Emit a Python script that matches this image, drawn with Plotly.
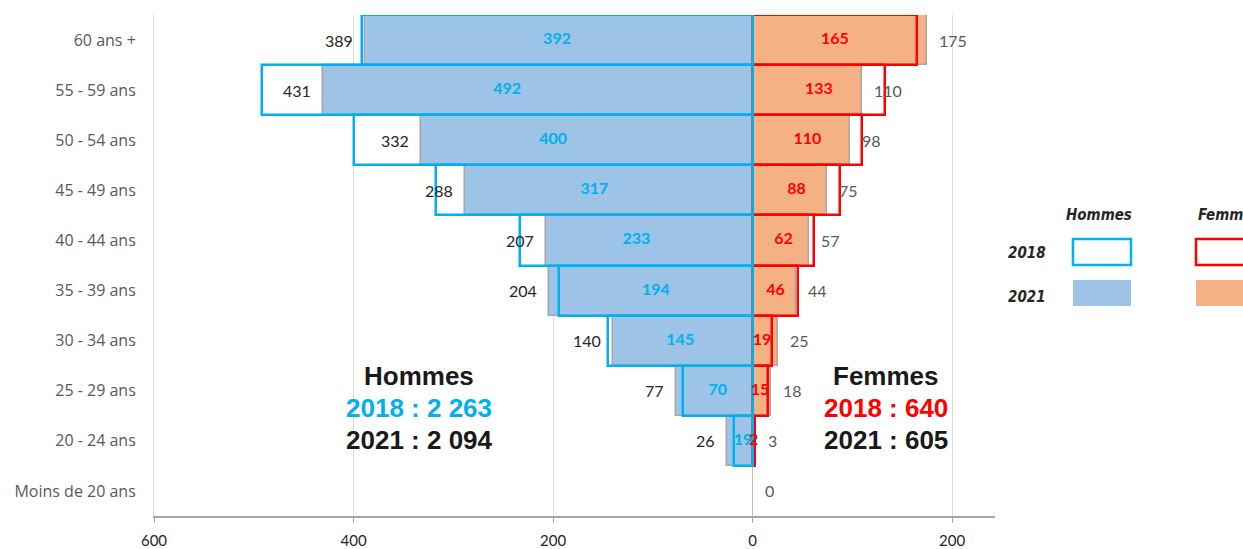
import plotly.graph_objects as go

categories = ["60 ans +", "55 - 59 ans", "50 - 54 ans", "45 - 49 ans", "40 - 44 ans",
              "35 - 39 ans", "30 - 34 ans", "25 - 29 ans", "20 - 24 ans", "Moins de 20 ans"]
hommes_2018 = [392, 492, 400, 317, 233, 194, 145, 70, 19, 0]
hommes_2021 = [389, 431, 332, 288, 207, 204, 140, 77, 26, 0]
femmes_2018 = [165, 133, 110, 88, 62, 46, 19, 15, 2, 0]
femmes_2021 = [175, 110, 98, 75, 57, 44, 25, 18, 3, 0]
tick_vals = [-600, -400, -200, 0, 200]
tick_text = ["600", "400", "200", "0", "200"]
total_text_h = ["Hommes", "2018 : 2 263", "2021 : 2 094"]
total_text_f = ["Femmes", "2018 : 640", "2021 : 605"]

BLUE = "#00B0F0"
BLUE_FILL = "#9DC3E6"
RED = "#FF0000"
ORANGE_FILL = "#F4B183"
GRAY_LINE = "#A6A6A6"
LABEL_FONT = "Lato, 'Open Sans', sans-serif"
CAT_FONT = "'Open Sans', Lato, sans-serif"


def nz(vals, sign=1):
    # zero-valued bars are not drawn (avoids an outline on the zero line)
    return [sign * v if v else None for v in vals]


fig = go.Figure()

# 2021 filled bars
fig.add_trace(go.Bar(y=categories, x=nz(hommes_2021, -1), orientation="h", width=1,
                     marker=dict(color=BLUE_FILL, line=dict(color=GRAY_LINE, width=1.5)),
                     hoverinfo="skip", showlegend=False))
fig.add_trace(go.Bar(y=categories, x=nz(femmes_2021), orientation="h", width=1,
                     marker=dict(color=ORANGE_FILL, line=dict(color=GRAY_LINE, width=1.5)),
                     hoverinfo="skip", showlegend=False))
# 2018 outline bars
fig.add_trace(go.Bar(y=categories, x=nz(femmes_2018), orientation="h", width=1,
                     marker=dict(color="rgba(0,0,0,0)", line=dict(color=RED, width=2.5)),
                     hoverinfo="skip", showlegend=False))
fig.add_trace(go.Bar(y=categories, x=nz(hommes_2018, -1), orientation="h", width=1,
                     marker=dict(color="rgba(0,0,0,0)", line=dict(color=BLUE, width=2.5)),
                     hoverinfo="skip", showlegend=False))

# inside labels (2018)
fig.add_trace(go.Scatter(
    y=[c for c, v in zip(categories, hommes_2018) if v > 0],
    x=[-v / 2 for v in hommes_2018 if v > 0],
    text=[str(v) for v in hommes_2018 if v > 0], mode="text",
    textfont=dict(family=LABEL_FONT, size=16, color=BLUE, weight="bold"),
    hoverinfo="skip", showlegend=False))
fig.add_trace(go.Scatter(
    y=[c for c, v in zip(categories, femmes_2018) if v > 0],
    x=[v / 2 for v in femmes_2018 if v > 0],
    text=[str(v) for v in femmes_2018 if v > 0], mode="text",
    textfont=dict(family=LABEL_FONT, size=16, color=RED, weight="bold"),
    hoverinfo="skip", showlegend=False))

annotations = []
# outside labels (2021)
for c, v in zip(categories, hommes_2021):
    if v > 0:
        annotations.append(dict(x=-v, y=c, xref="x", yref="y", text=str(v), showarrow=False,
                                xanchor="right", xshift=-10,
                                font=dict(family=LABEL_FONT, size=16, color="#262626")))
for c, v in zip(categories, femmes_2021):
    annotations.append(dict(x=v, y=c, xref="x", yref="y", text=str(v), showarrow=False,
                            xanchor="left", xshift=10,
                            font=dict(family=LABEL_FONT, size=16, color="#595959")))

# totals
big_font = "'Liberation Sans', Arial, sans-serif"
ys = [0.2794, 0.2156, 0.1517]
colors_h = ["#1a1a1a", BLUE, "#1a1a1a"]
colors_f = ["#1a1a1a", RED, "#1a1a1a"]
for t, yy, col in zip(total_text_h, ys, colors_h):
    annotations.append(dict(x=-334, y=yy, xref="x", yref="paper", text="<b>%s</b>" % t,
                            showarrow=False, xanchor="center", yanchor="middle",
                            font=dict(family=big_font, size=26, color=col)))
for t, yy, col in zip(total_text_f, ys, colors_f):
    annotations.append(dict(x=134, y=yy, xref="x", yref="paper", text="<b>%s</b>" % t,
                            showarrow=False, xanchor="center", yanchor="middle",
                            font=dict(family=big_font, size=26, color=col)))

# custom legend
leg_font = dict(family="'DejaVu Sans Condensed', sans-serif", size=15,
                color="#262626", weight="bold", style="italic")
annotations += [
    dict(x=1.1237, y=0.6008, xref="paper", yref="paper", text="Hommes", showarrow=False,
         xanchor="center", yanchor="middle", font=leg_font),
    dict(x=1.2390, y=0.6008, xref="paper", yref="paper", text="Femmes", showarrow=False,
         xanchor="left", yanchor="middle", font=leg_font),
    dict(x=1.038, y=0.525, xref="paper", yref="paper", text="2018", showarrow=False,
         xanchor="center", yanchor="middle", font=leg_font),
    dict(x=1.038, y=0.4371, xref="paper", yref="paper", text="2021", showarrow=False,
         xanchor="center", yanchor="middle", font=leg_font),
]
shapes = [
    dict(type="rect", xref="paper", yref="paper", x0=1.0927, x1=1.1617, y0=0.5010, y1=0.5529,
         line=dict(color=BLUE, width=2.5), fillcolor="rgba(0,0,0,0)"),
    dict(type="rect", xref="paper", yref="paper", x0=1.0927, x1=1.1617, y0=0.4192, y1=0.4711,
         line=dict(width=0), fillcolor=BLUE_FILL),
    dict(type="rect", xref="paper", yref="paper", x0=1.2390, x1=1.3252, y0=0.5010, y1=0.5529,
         line=dict(color=RED, width=2.5), fillcolor="rgba(0,0,0,0)"),
    dict(type="rect", xref="paper", yref="paper", x0=1.2390, x1=1.3252, y0=0.4192, y1=0.4711,
         line=dict(width=0), fillcolor=ORANGE_FILL),
]

fig.update_layout(
    width=1243, height=549, autosize=False,
    margin=dict(l=154, r=248, t=15, b=33),
    barmode="overlay", bargap=0,
    plot_bgcolor="white", paper_bgcolor="white",
    annotations=annotations, shapes=shapes,
    xaxis=dict(range=[-600, 243], tickvals=tick_vals, ticktext=tick_text, automargin=False,
               showgrid=True, gridcolor="#D9D9D9", gridwidth=1,
               zeroline=True, zerolinecolor="#BFBFBF", zerolinewidth=1,
               showline=True, linecolor=GRAY_LINE, linewidth=1.5,
               ticks="outside", ticklen=5, tickcolor=GRAY_LINE, ticklabelstandoff=5,
               tickfont=dict(family=LABEL_FONT, size=15, color="#262626")),
    yaxis=dict(autorange="reversed", showgrid=False, zeroline=False,
               showline=True, linecolor="#D9D9D9", linewidth=1,
               automargin=False, ticks="", ticklabelstandoff=14,
               tickfont=dict(family=CAT_FONT, size=16, color="#595959")),
)

fig.write_html("out.html", config={"displayModeBar": False},
               post_script="document.body.style.margin='0';")
